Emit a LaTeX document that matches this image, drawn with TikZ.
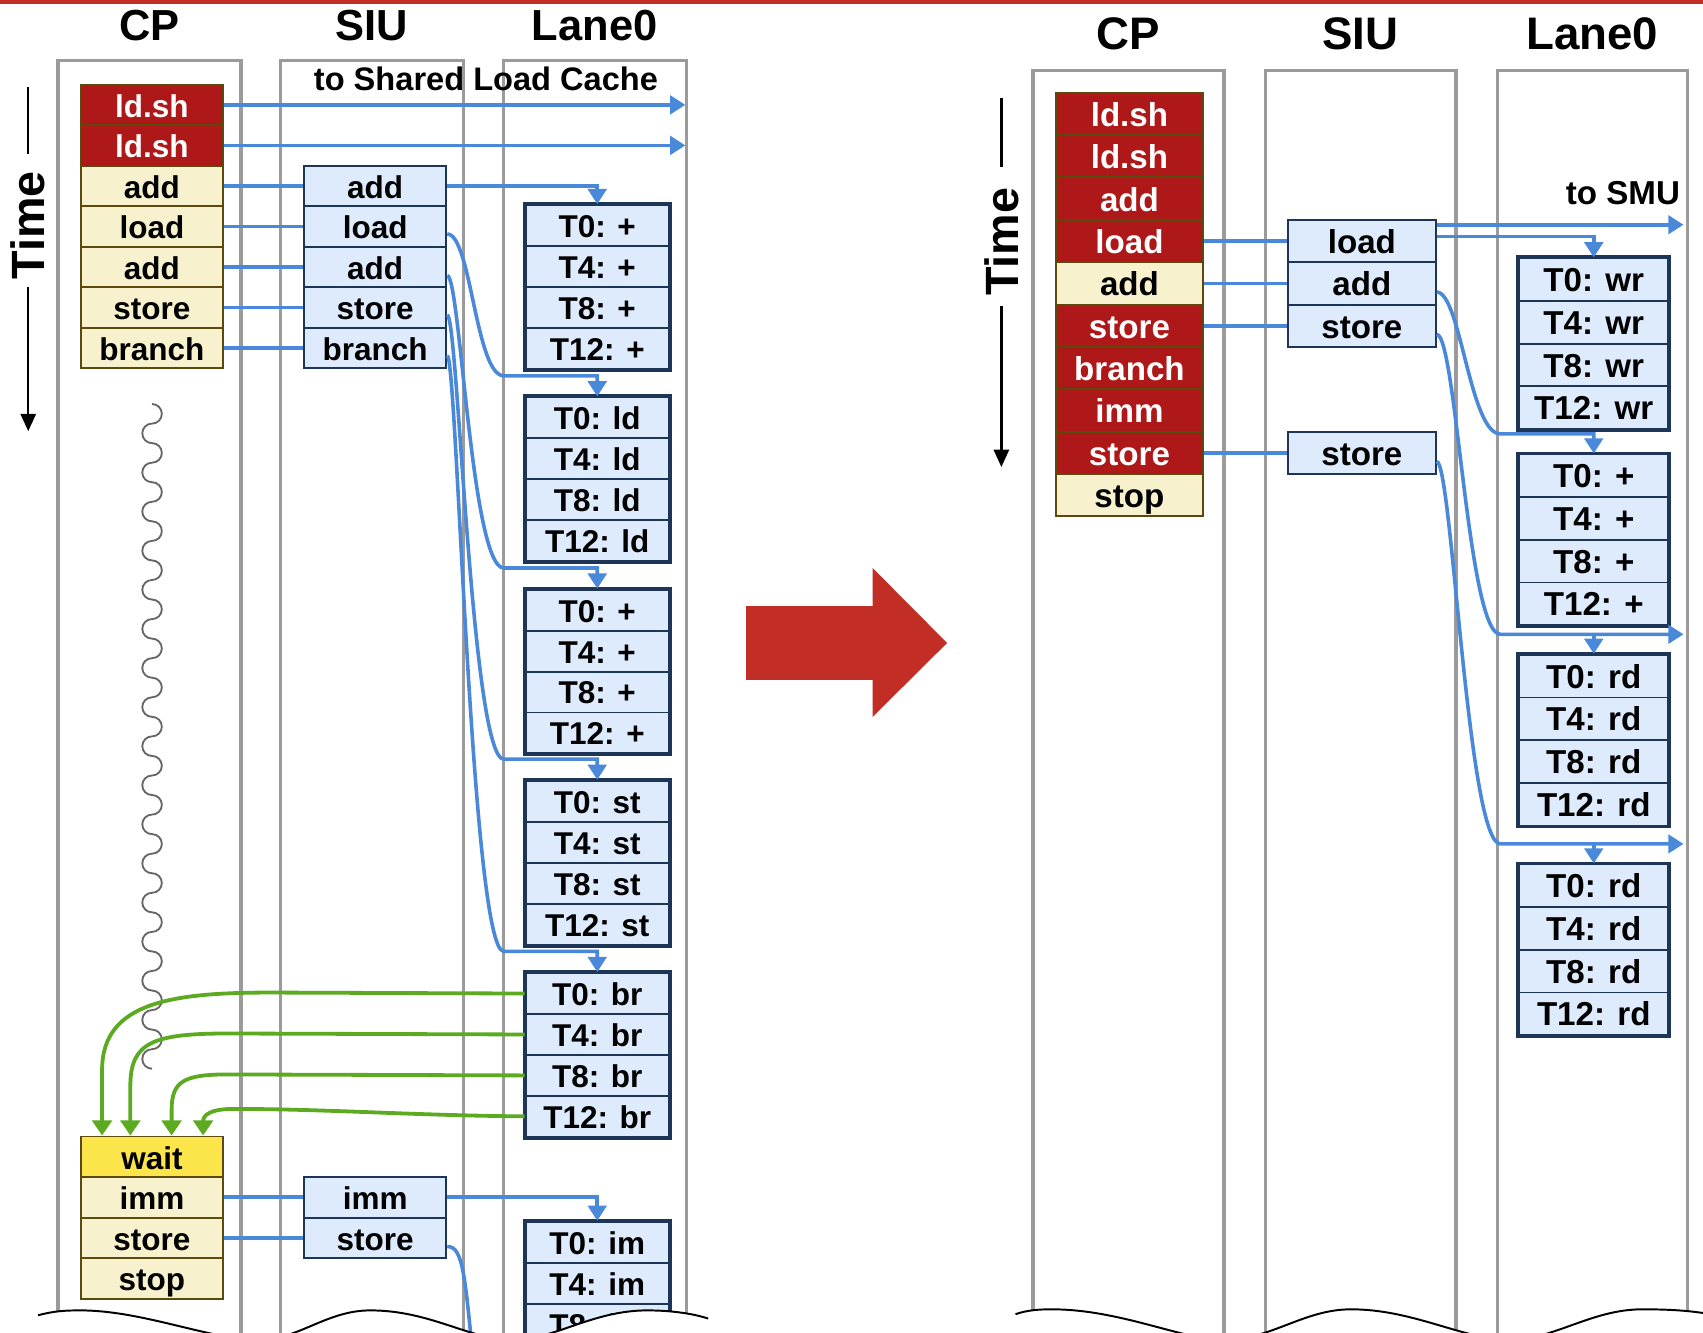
\documentclass[tikz,border=0pt]{standalone}
\usepackage{fontspec}
\setmainfont{Liberation Sans}
\usetikzlibrary{arrows.meta,calc}
\definecolor{colgray}{HTML}{9B9B9B}
\definecolor{redfill}{HTML}{AE1818}
\definecolor{cpborder}{HTML}{5C4A0C}
\definecolor{cream}{HTML}{F7F2CD}
\definecolor{waitfill}{HTML}{FBE54B}
\definecolor{lightblue}{HTML}{DDEBFC}
\definecolor{navy}{HTML}{1D3658}
\definecolor{arrowblue}{HTML}{4A88DA}
\definecolor{agreen}{HTML}{5BAA1F}
\definecolor{bigred}{HTML}{C22E25}
\definecolor{wavegray}{HTML}{666666}
\newcommand{\fsA}{\fontsize{29pt}{31pt}\selectfont\bfseries}
\newcommand{\fsB}{\fontsize{30.5pt}{32pt}\selectfont\bfseries}
\newcommand{\fsTA}{\fontsize{40pt}{42pt}\selectfont\bfseries}
\newcommand{\fsTB}{\fontsize{42pt}{44pt}\selectfont\bfseries}
\newcommand{\fsTime}{\fontsize{43pt}{45pt}\selectfont\bfseries}
\tikzset{
  lanecol/.style={draw=colgray, line width=3pt},
  insA/.style={rectangle, inner sep=0pt, anchor=north west, minimum width=130pt, minimum height=37.3pt, font=\fsA, text height=23.5pt, text depth=0.5pt, line width=1.8pt},
  insB/.style={rectangle, inner sep=0pt, anchor=north west, minimum width=136pt, minimum height=39pt, font=\fsB, text height=23.5pt, text depth=0.5pt, line width=1.8pt},
  redc/.style={fill=redfill, draw=cpborder, text=white},
  creamc/.style={fill=cream, draw=cpborder},
  waitc/.style={fill=waitfill, draw=cpborder},
  siuc/.style={fill=lightblue, draw=navy},
  laneA/.style={rectangle, inner sep=0pt, anchor=north west, minimum width=132pt, minimum height=37.7pt, font=\fsA, text height=23pt, text depth=1pt, fill=lightblue, draw=navy, line width=1.8pt},
  laneB/.style={rectangle, inner sep=0pt, anchor=north west, minimum width=137pt, minimum height=39.3pt, font=\fsB, text height=23pt, text depth=1pt, fill=lightblue, draw=navy, line width=1.8pt},
  grpframe/.style={draw=navy, line width=3.6pt},
  bline/.style={draw=arrowblue, line width=3.3pt},
  barrow/.style={bline, -{Triangle[length=14pt,width=17pt]}},
  garrow/.style={draw=agreen, line width=3.5pt, -{Triangle[length=14pt,width=18pt]}},
  tline/.style={draw=black, line width=2.2pt},
  tarrow/.style={tline, -{Triangle[length=16pt,width=14pt]}},
  ttl/.style={anchor=base, inner sep=0pt},
  cutline/.style={draw=black, line width=1.8pt},
}
\begin{document}
\begin{tikzpicture}[x=1pt,y=-1pt]
\useasboundingbox (0,0) rectangle (1568,1227);

% ---------- columns ----------
\draw[lanecol] (53.5,1300) -- (53.5,56) -- (222,56) -- (222,1300);
\draw[lanecol] (258,1300) -- (258,56) -- (427,56) -- (427,1300);
\draw[lanecol] (463.5,1300) -- (463.5,56) -- (632,56) -- (632,1300);
\draw[lanecol] (951,1300) -- (951,65) -- (1127,65) -- (1127,1300);
\draw[lanecol] (1165,1300) -- (1165,65) -- (1340.5,65) -- (1340.5,1300);
\draw[lanecol] (1379,1300) -- (1379,65) -- (1553.5,65) -- (1553.5,1300);

% ---------- titles ----------
\node[ttl, font=\fsTA] (tCPL) at (137.5,37.5) {CP};
\node[ttl, font=\fsTA] (tSIUL) at (342.5,37.5) {SIU};
\node[ttl, font=\fsTA] (tLaneL) at (547.5,37.5) {Lane0};
\node[ttl, font=\fsTB] (tCPR) at (1039,46) {CP};
\node[ttl, font=\fsTB] (tSIUR) at (1252.5,46) {SIU};
\node[ttl, font=\fsTB] (tLaneR) at (1466,46) {Lane0};

% ---------- time axes ----------
\node[rotate=90, font=\fsTime, inner sep=0pt] (timeL) at (26,207.5) {Time};
\coordinate (tL1) at (26,80);  \coordinate (tL2) at (26,142);
\coordinate (tL3) at (26,264); \coordinate (tL4) at (26,397);
\draw[tline] (tL1) -- (tL2);
\draw[tarrow] (tL3) -- (tL4);
\node[rotate=90, font=\fsTime, inner sep=0pt] (timeR) at (922,222.5) {Time};
\coordinate (tR1) at (922,90);  \coordinate (tR2) at (922,154);
\coordinate (tR3) at (922,282); \coordinate (tR4) at (922,430);
\draw[tline] (tR1) -- (tR2);
\draw[tarrow] (tR3) -- (tR4);

% ---------- squiggle (chain of half circles) ----------
\coordinate (wvTop) at (140,372);
\draw[wavegray, line width=1.7pt] (wvTop)
  \foreach \n in {1,...,17} { arc[start angle=90, end angle=-90, radius=9pt] arc[start angle=90, end angle=270, radius=9pt] };

% ---------- left CP stack ----------
\node[insA, redc]   (cpL1) at (74,77)    {ld.sh};
\node[insA, redc]   (cpL2) at (74,114.3) {ld.sh};
\node[insA, creamc] (cpL3) at (74,151.6) {add};
\node[insA, creamc] (cpL4) at (74,188.9) {load};
\node[insA, creamc] (cpL5) at (74,226.2) {add};
\node[insA, creamc] (cpL6) at (74,263.5) {store};
\node[insA, creamc] (cpL7) at (74,300.8) {branch};
\node[insA, waitc]  (cpL8) at (74,1045.5) {wait};
\node[insA, creamc] (cpL9) at (74,1082.8) {imm};
\node[insA, creamc] (cpL10) at (74,1120.1) {store};
\node[insA, creamc] (cpL11) at (74,1157.4) {stop};

% ---------- left SIU stack ----------
\node[insA, siuc, minimum width=131pt] (siuL3) at (279,151.6) {add};
\node[insA, siuc, minimum width=131pt] (siuL4) at (279,188.9) {load};
\node[insA, siuc, minimum width=131pt] (siuL5) at (279,226.2) {add};
\node[insA, siuc, minimum width=131pt] (siuL6) at (279,263.5) {store};
\node[insA, siuc, minimum width=131pt] (siuL7) at (279,300.8) {branch};
\node[insA, siuc, minimum width=131pt] (siuL9) at (279,1082.8) {imm};
\node[insA, siuc, minimum width=131pt] (siuL10) at (279,1120.1) {store};

% ---------- left lane groups ----------
\foreach \g/\yy/\op in {1/188/+,2/365/ld,3/542/+,4/718/st,5/895/br,6/1124/im}{
  \foreach \k [count=\r] in {0,4,8,12}
    \node[laneA] (gL\g-\r) at (483,{\yy+(\r-1)*37.7}) {T\k: \op};
  \draw[grpframe] (gL\g-1.north west) rectangle (gL\g-4.south east);
}

% ---------- right CP stack ----------
\node[insB, redc]   (cpR1) at (971,84.5)  {ld.sh};
\node[insB, redc]   (cpR2) at (971,123.5) {ld.sh};
\node[insB, redc]   (cpR3) at (971,162.5) {add};
\node[insB, redc]   (cpR4) at (971,201.5) {load};
\node[insB, creamc] (cpR5) at (971,240.5) {add};
\node[insB, redc]   (cpR6) at (971,279.5) {store};
\node[insB, redc]   (cpR7) at (971,318.5) {branch};
\node[insB, redc]   (cpR8) at (971,357.5) {imm};
\node[insB, redc]   (cpR9) at (971,396.5) {store};
\node[insB, creamc] (cpR10) at (971,435.5) {stop};

% ---------- right SIU stack ----------
\node[insB, siuc] (siuR4) at (1185,201.5) {load};
\node[insB, siuc] (siuR5) at (1185,240.5) {add};
\node[insB, siuc] (siuR6) at (1185,279.5) {store};
\node[insB, siuc] (siuR9) at (1185,396.5) {store};

% ---------- right lane groups ----------
\foreach \g/\yy/\op in {1/237/wr,2/417.5/+,3/602/rd,4/795/rd}{
  \foreach \k [count=\r] in {0,4,8,12}
    \node[laneB] (gR\g-\r) at (1398,{\yy+(\r-1)*39.3}) {T\k: \op};
  \draw[grpframe] (gR\g-1.north west) rectangle (gR\g-4.south east);
}

% ---------- labels ----------
\node[anchor=base east, inner sep=0pt, font=\fontsize{30pt}{32pt}\selectfont\bfseries] (lslc) at (606,83.5) {to Shared Load Cache};
\node[anchor=base east, inner sep=0pt, font=\fsB] (lsmu) at (1547,188) {to SMU};

% ---------- left blue connectors ----------
\coordinate (shlEnd) at (631,0);
\draw[barrow] (cpL1.east) -- (cpL1.east -| shlEnd);
\draw[barrow] (cpL2.east) -- (cpL2.east -| shlEnd);
\foreach \i in {3,4,5,6,7,9,10}
  \draw[bline] (cpL\i.east) -- (siuL\i.west);
\draw[barrow] (siuL3.east) -| (gL1-1.north);
\draw[barrow] ($(siuL4.east)+(0,7)$) .. controls +(22,0) and +(-26,0) .. ($(gL2-1.north)+(-86,-19)$) -| (gL2-1.north);
\draw[barrow] ($(siuL5.east)+(0,8)$) .. controls +(12,0) and +(-30,0) .. ($(gL3-1.north)+(-86,-19)$) -| (gL3-1.north);
\draw[barrow] ($(siuL6.east)+(0,7)$) .. controls +(10,0) and +(-30,0) .. ($(gL4-1.north)+(-86,-19)$) -| (gL4-1.north);
\draw[barrow] ($(siuL7.east)+(0,7)$) .. controls +(9,0) and +(-30,0) .. ($(gL5-1.north)+(-86,-19)$) -| (gL5-1.north);
\draw[barrow] (siuL9.east) -| (gL6-1.north);
\coordinate (siuStEnd) at (437,1265);
\draw[bline] ($(siuL10.east)+(0,8)$) .. controls +(15,0) and (428,1175) .. (siuStEnd);

% ---------- right blue connectors ----------
\coordinate (rEnd) at (1550,0);
\foreach \i in {4,5,6,9}
  \draw[bline] (cpR\i.east) -- (siuR\i.west);
\coordinate (smuA) at ($(siuR4.east)+(0,-15)$);
\draw[barrow] (smuA) -- (smuA -| rEnd);
\draw[barrow] ($(siuR4.east)+(0,-4)$) -| (gR1-1.north);
\draw[barrow] ($(siuR5.east)+(0,8)$) .. controls +(22,0) and +(-28,0) .. ($(gR2-1.north)+(-86,-18)$) -| (gR2-1.north);
\coordinate (j3) at ($(gR3-1.north)+(0,-18)$);
\coordinate (j3L) at ($(j3)+(-86,0)$);
\draw[barrow] ($(siuR6.east)+(0,8)$) .. controls +(18,0) and +(-30,0) .. (j3L) -- (j3L -| rEnd);
\draw[barrow] (j3) -- (gR3-1.north);
\coordinate (j4) at ($(gR4-1.north)+(0,-18)$);
\coordinate (j4L) at ($(j4)+(-86,0)$);
\draw[barrow] ($(siuR9.east)+(0,8)$) .. controls +(14,0) and +(-30,0) .. (j4L) -- (j4L -| rEnd);
\draw[barrow] (j4) -- (gR4-1.north);

% ---------- green connectors ----------
\draw[garrow] (gL5-1.west) -- (250,913.85) .. controls (160,913.85) and (94,922) .. (94,985) -- ($(cpL8.north west)+(20,0)$);
\draw[garrow] (gL5-2.west) -- (210,951.55) .. controls (140,951.55) and (120,960) .. (120,1000) -- ($(cpL8.north west)+(46,0)$);
\draw[garrow] (gL5-3.west) -- (210,989.25) .. controls (170,989.25) and (158,995) .. (158,1022) -- ($(cpL8.north west)+(84,0)$);
\draw[garrow] (gL5-4.west) .. controls (380,1027) and (300,1021) .. (215,1021) .. controls (193,1021) and (187,1027) .. ($(cpL8.north west)+(113,0)$);

% ---------- bottom cut waves ----------
\fill[white] (35,1211) .. controls (50,1207) and (60,1206.5) .. (74,1206.5)
  .. controls (130,1206.5) and (190,1232) .. (236,1234)
  .. controls (275,1234) and (300,1206.5) .. (341,1206.5)
  .. controls (395,1206.5) and (430,1232) .. (470,1234)
  .. controls (510,1234) and (545,1206.5) .. (596,1206.5)
  .. controls (620,1206.5) and (640,1210) .. (652,1214) -- (652,1320) -- (35,1320) -- cycle;
\draw[cutline] (35,1211) .. controls (50,1207) and (60,1206.5) .. (74,1206.5)
  .. controls (130,1206.5) and (190,1232) .. (236,1234)
  .. controls (275,1234) and (300,1206.5) .. (341,1206.5)
  .. controls (395,1206.5) and (430,1232) .. (470,1234)
  .. controls (510,1234) and (545,1206.5) .. (596,1206.5)
  .. controls (620,1206.5) and (640,1210) .. (652,1214);
\fill[white] (935,1210) .. controls (945,1206.5) and (955,1205.5) .. (968,1205.5)
  .. controls (1030,1205.5) and (1085,1232) .. (1125,1234)
  .. controls (1170,1234) and (1200,1205.5) .. (1244,1205.5)
  .. controls (1300,1205.5) and (1345,1232) .. (1388,1234)
  .. controls (1430,1234) and (1465,1205.5) .. (1512,1205.5)
  .. controls (1540,1205.5) and (1560,1207) .. (1580,1211) -- (1580,1320) -- (935,1320) -- cycle;
\draw[cutline] (935,1210) .. controls (945,1206.5) and (955,1205.5) .. (968,1205.5)
  .. controls (1030,1205.5) and (1085,1232) .. (1125,1234)
  .. controls (1170,1234) and (1200,1205.5) .. (1244,1205.5)
  .. controls (1300,1205.5) and (1345,1232) .. (1388,1234)
  .. controls (1430,1234) and (1465,1205.5) .. (1512,1205.5)
  .. controls (1540,1205.5) and (1560,1207) .. (1580,1211);

% ---------- big arrow and top rule ----------
\fill[bigred] (687,558) -- (803.5,558) -- (803.5,523) -- (872,592) -- (803.5,660) -- (803.5,626) -- (687,626) -- cycle;
\fill[bigred] (0,0) rectangle (1568,3.5);
\end{tikzpicture}
\end{document}
